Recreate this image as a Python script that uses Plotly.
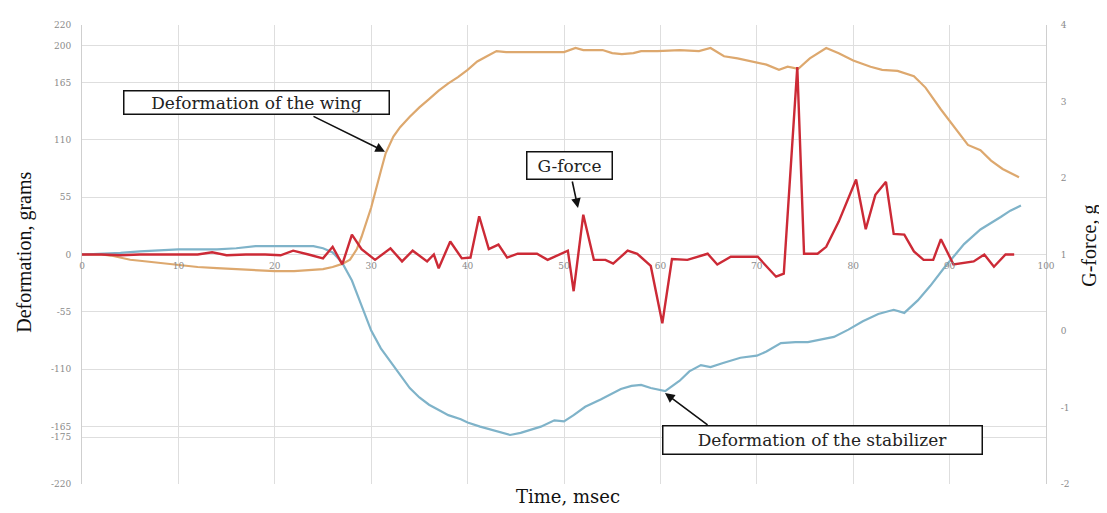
import plotly.graph_objects as go

# ---------------- data ----------------
time_wing = [0, 2, 3, 4, 5, 6, 8, 10, 12, 14, 16, 18, 20, 22, 24, 25, 26, 27, 27.8, 28.5, 29, 30, 31,
             31.5, 32.3, 33, 34, 35, 36, 37, 38, 39, 40, 41, 42, 43, 44, 45, 46, 48, 50, 51.2, 52, 54,
             55, 56, 57.2, 58, 59.7, 62, 64, 65.2, 66.6, 68, 70.1, 71, 72.3, 73.2, 74.3, 75.5, 77.2,
             78.5, 80, 81.8, 83, 84.6, 86.3, 87.5, 89.1, 90.5, 91.9, 93.2, 94.3, 95.5, 97.2]
wing = [0, 0, -1, -3, -5, -6, -8, -10, -12, -13, -14, -15, -16, -16, -15, -14, -12, -9, -5, 5, 17, 45, 80,
        97, 113, 122, 132, 141, 149, 157, 164, 170, 177, 185, 190, 195, 194, 194, 194, 194, 194, 198, 196, 196,
        193, 192, 193, 195, 195, 196, 195, 198, 190, 188, 184, 182, 177, 180, 178, 188, 198,
        193, 186, 180, 177, 176, 171, 160, 139, 122, 105, 100, 90, 82, 74]

time_stab = [0, 2, 4, 6, 8, 10, 12, 14, 16, 18, 20, 22, 24, 25, 26, 27, 28, 29, 30, 31, 32, 33, 34, 35, 36,
             37.2, 38, 39.3, 40, 41.3, 42.5, 43.4, 44.4, 45.5, 46.5, 47.6, 49, 50, 51, 52.2, 53.8, 55, 55.9,
             57, 58, 59, 60.5, 62, 63, 64.2, 65.2, 66.5, 68.3, 70, 71, 72.5, 74, 75.3, 76.5, 78, 79.5, 81,
             82.6, 84.2, 85.3, 86.7, 88, 89.5, 90.6, 91.5, 93.2, 94.3, 95.3, 96.3, 97.4]
stabilizer = [0, 0.5, 1.5, 3, 4, 5, 5, 5, 6, 8, 8, 8, 8, 6, 2, -8, -25, -49, -73, -90, -103, -116, -128, -137, -144,
              -150, -154, -158, -161, -165, -168, -170, -173, -171, -168, -165, -159, -160, -154, -146, -139, -133, -129,
              -126, -125, -128, -131, -121, -112, -106, -108, -104, -99, -97, -93, -85, -84, -84, -82, -79, -72, -64,
              -57, -53, -56, -44, -30, -12, 0, 10, 24, 30, 36, 42, 47]

time_g = [0, 2, 4, 6, 8, 10, 12, 13.5, 15, 17, 19, 20.6, 21.9, 23.5, 25, 26, 27, 28, 29, 30.4, 32, 33.2, 34.3,
          35.8, 36.5, 37, 38.2, 39.4, 40.3, 41.2, 42.2, 43.2, 44.1, 45.2, 47.2, 48.3, 50.4, 51, 52, 53.1, 54.3,
          55.1, 56.6, 57.6, 59, 60.2, 61.2, 62.8, 64.9, 65.9, 67.3, 70.1, 72, 72.8, 74.2, 74.9, 76.3, 77.2,
          78.5, 80.3, 81.3, 82.3, 83.4, 84.2, 85.3, 86.3, 87.3, 88.3, 89.1, 90.4, 92.5, 93.6, 94.6, 95.8, 96.7]
g_force = [1.0, 1.0, 0.99, 1.0, 1.0, 1.0, 1.0, 1.03, 0.99, 1.0, 1.0, 0.99, 1.05, 1.0, 0.95, 1.1, 0.87, 1.26, 1.07,
           0.93, 1.08, 0.91, 1.05, 0.91, 1.0, 0.82, 1.17, 0.95, 0.96, 1.5, 1.07, 1.13, 0.96, 1.01, 1.01, 0.93, 1.05,
           0.52, 1.52, 0.93, 0.93, 0.88, 1.05, 1.01, 0.85, 0.1, 0.94, 0.93, 1.01, 0.87, 0.97, 0.97, 0.71, 0.75,
           3.45, 1.01, 1.01, 1.1, 1.43, 1.98, 1.33, 1.78, 1.95, 1.27, 1.26, 1.04, 0.93, 0.93, 1.2, 0.87, 0.91,
           1.0, 0.84, 1.0, 1.0]

left_ticks = [220, 200, 165, 110, 55, 0, -55, -110, -165, -175, -220]
right_ticks = [4, 3, 2, 1, 0, -1, -2]
x_ticks = [0, 10, 20, 30, 40, 50, 60, 70, 80, 90, 100]

# ---------------- figure ----------------
GRID = "#DEDEDE"
TICKFONT = dict(family="DejaVu Serif", size=9, color="#8A8A8A")
SERIF = "Liberation Serif"
BOXFONT = dict(family="DejaVu Serif", size=17, color="#222222")

fig = go.Figure()
fig.add_trace(go.Scatter(x=time_wing, y=wing, mode="lines", name="Deformation of the wing",
                         line=dict(color="#DDA86E", width=2.2)))
fig.add_trace(go.Scatter(x=time_stab, y=stabilizer, mode="lines", name="Deformation of the stabilizer",
                         line=dict(color="#7FB3C9", width=2.2)))
fig.add_trace(go.Scatter(x=time_g, y=g_force, mode="lines", name="G-force", yaxis="y2",
                         line=dict(color="#CC2A36", width=2.4)))

# page body adds an 8px offset; compensate so the plot area sits at 82..1046 x 20..484
fig.update_layout(
    width=1099, height=505,
    margin=dict(l=74, r=61, t=12, b=29),
    paper_bgcolor="white", plot_bgcolor="white",
    showlegend=False,
    xaxis=dict(range=[0, 100], tickvals=x_ticks, ticktext=[str(v) for v in x_ticks],
               showgrid=True, gridcolor=GRID, gridwidth=1, zeroline=False, showline=False,
               anchor="free", position=0.5, ticks="", tickfont=TICKFONT, ticklabelstandoff=4),
    yaxis=dict(range=[-220, 220], tickvals=left_ticks, ticktext=[str(v) for v in left_ticks],
               showgrid=True, gridcolor=GRID, gridwidth=1, zeroline=True, zerolinecolor=GRID,
               zerolinewidth=1, showline=True, linecolor="#CFCFCF", linewidth=1, ticks="",
               tickfont=TICKFONT, ticklabelstandoff=8),
    yaxis2=dict(range=[-2, 4], tickvals=right_ticks, ticktext=[str(v) for v in right_ticks],
                overlaying="y", side="right", showgrid=False, zeroline=False, showline=True,
                linecolor="#CFCFCF", linewidth=1, ticks="", tickfont=TICKFONT, ticklabelstandoff=12),
)

common = dict(xref="paper", yref="paper", xanchor="center", yanchor="middle", showarrow=False)
box = dict(font=BOXFONT, bgcolor="white", bordercolor="#111111", borderwidth=1.5, borderpad=1)

annotations = [
    # axis titles
    dict(text="Deformation, grams", x=-0.059, y=0.504, textangle=-90,
         font=dict(family=SERIF, size=20, color="#111111"), **common),
    dict(text="G-force, g", x=1.0456, y=0.519, textangle=-90,
         font=dict(family=SERIF, size=20, color="#111111"), **common),
    dict(text="Time, msec", x=0.504, y=-0.028,
         font=dict(family="DejaVu Serif", size=18, color="#111111"), **common),
    # labelled boxes
    dict(text="Deformation of the wing", x=0.1805, y=0.8308, width=262, height=20, **box, **common),
    dict(text="G-force", x=0.5057, y=0.6929, width=82, height=24, **box, **common),
    dict(text="Deformation of the stabilizer", x=0.7682, y=0.0959, width=316, height=25, **box, **common),
    # arrows
    dict(text="", x=31.43, y=98.6, xref="x", yref="y", ax=-73, ay=-36, showarrow=True,
         arrowhead=2, arrowsize=1.2, arrowwidth=1.6, arrowcolor="#111111"),
    dict(text="", x=51.45, y=1.608, xref="x", yref="y2", ax=-6, ay=-28, showarrow=True,
         arrowhead=2, arrowsize=1.2, arrowwidth=1.6, arrowcolor="#111111"),
    dict(text="", x=60.48, y=-132.8, xref="x", yref="y", ax=44, ay=33, showarrow=True,
         arrowhead=2, arrowsize=1.2, arrowwidth=1.6, arrowcolor="#111111"),
]
fig.update_layout(annotations=annotations)

fig.write_html("out.html")
